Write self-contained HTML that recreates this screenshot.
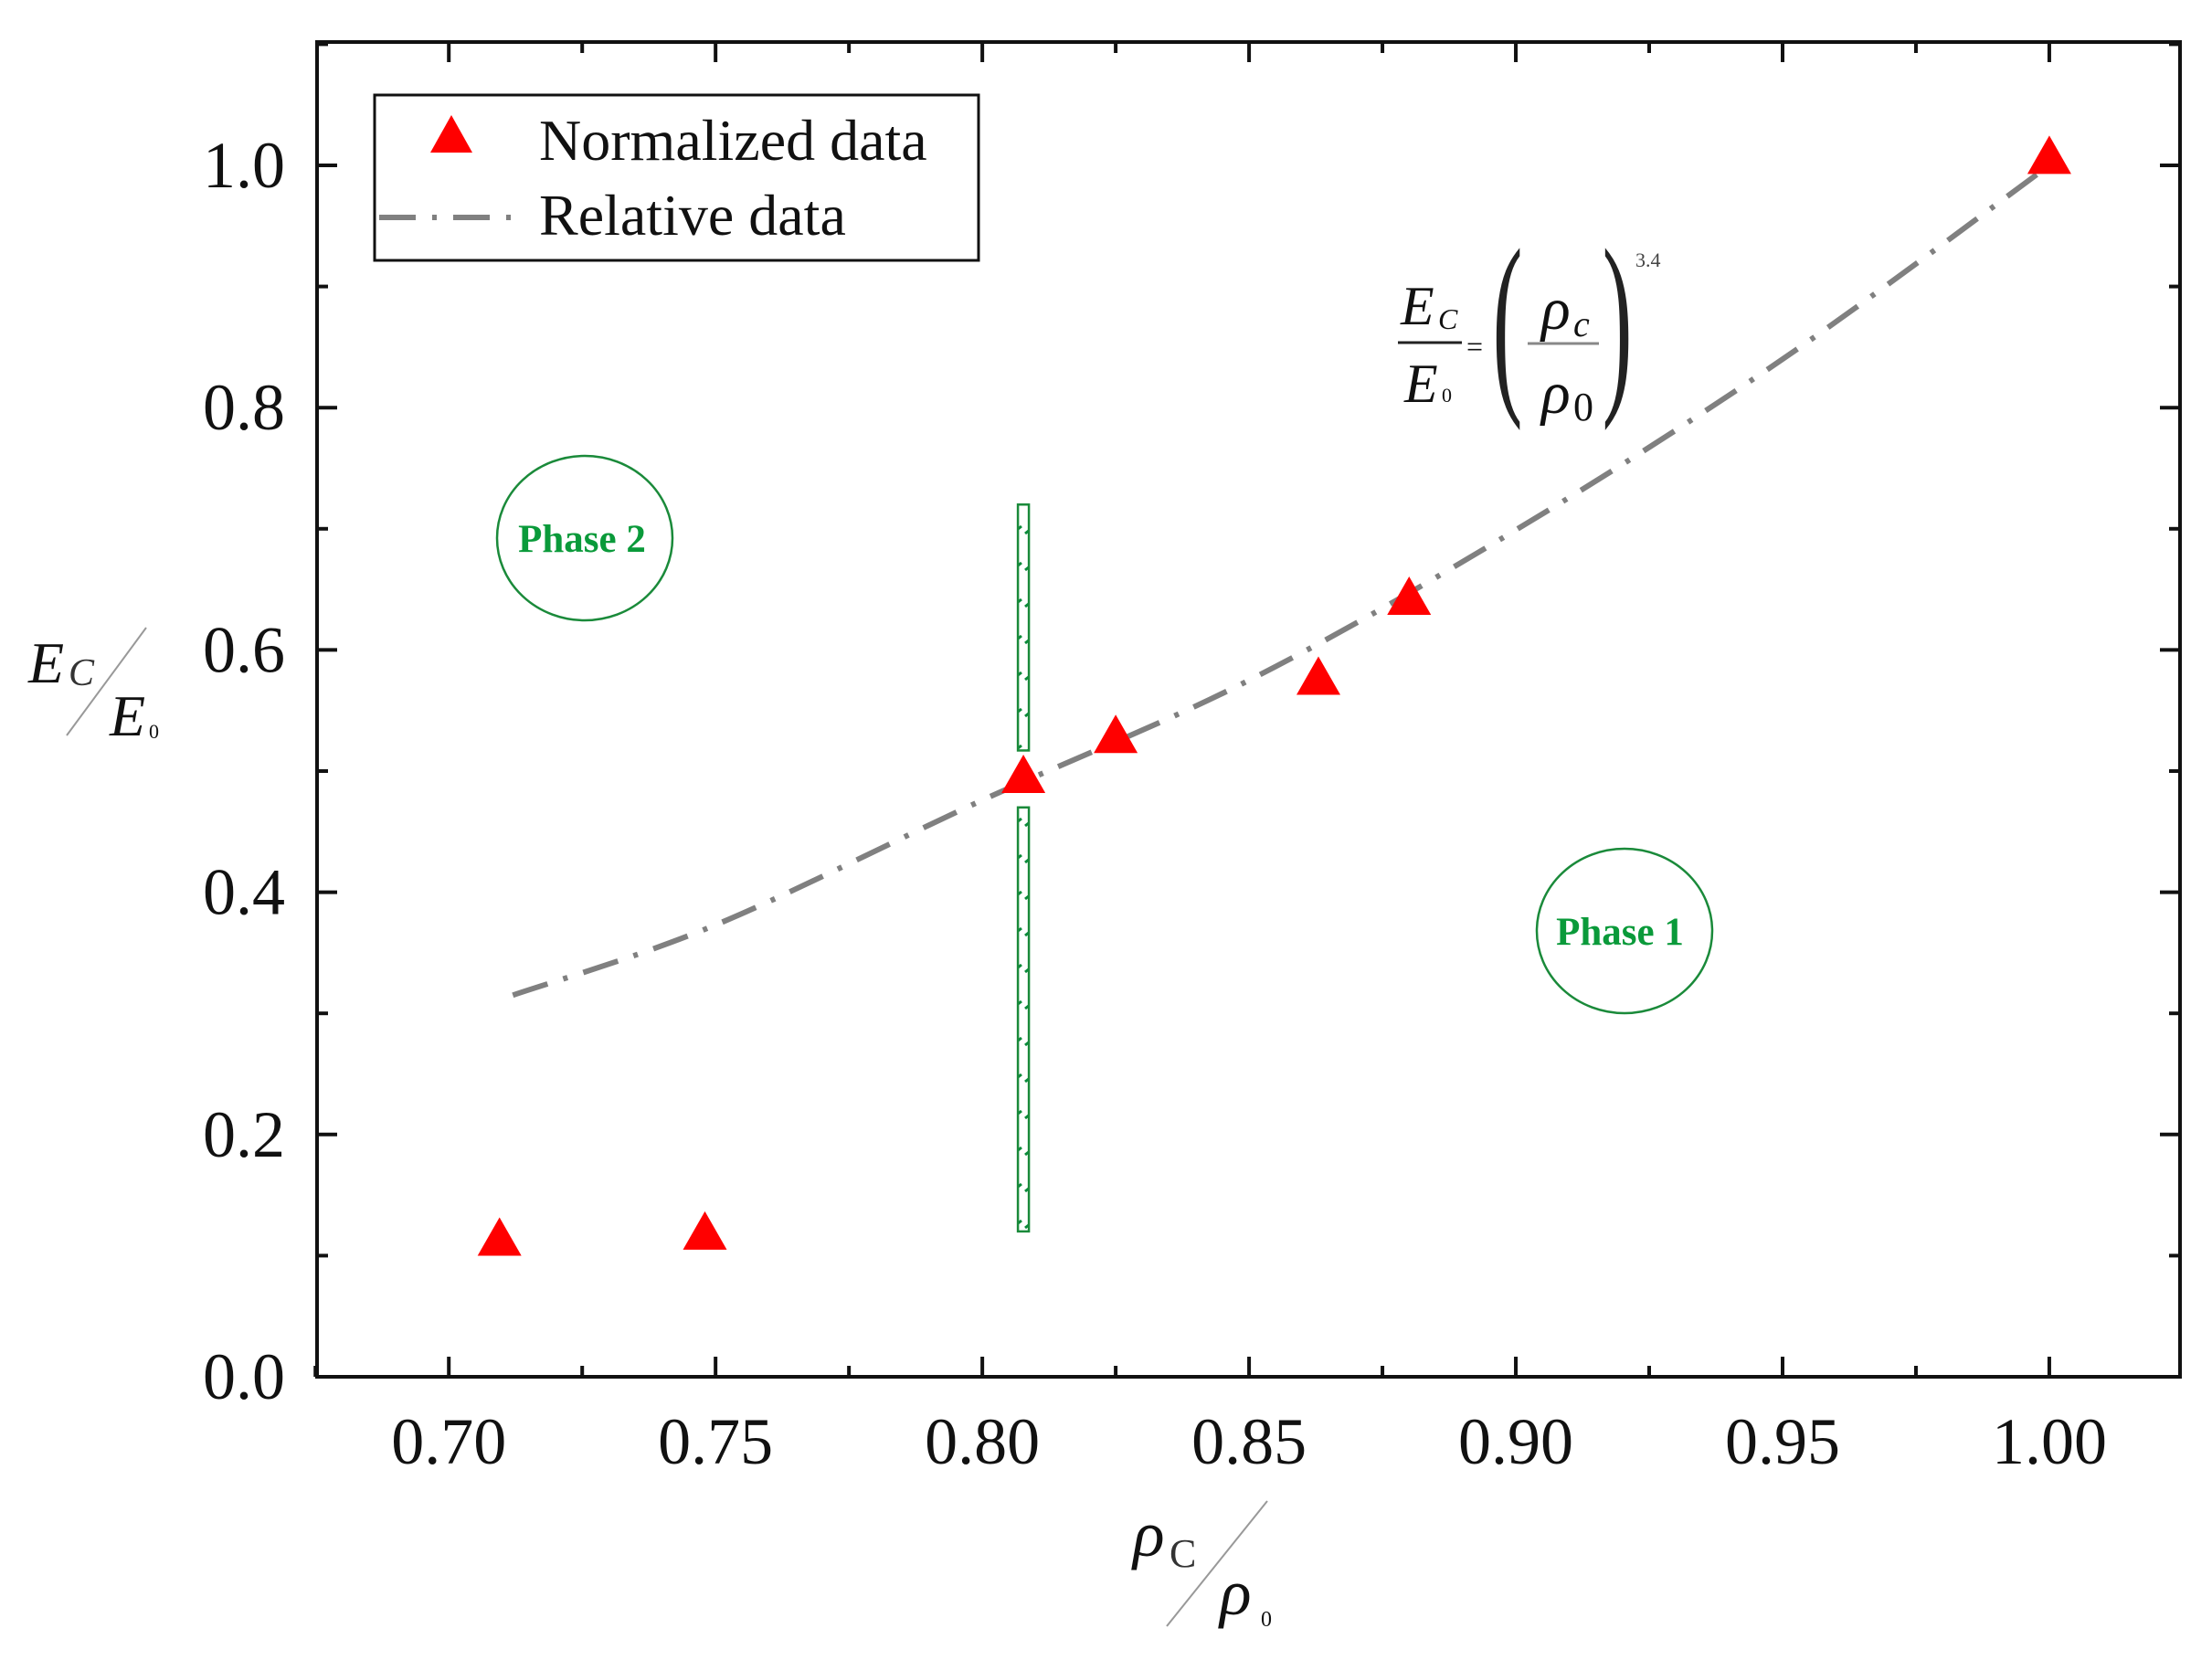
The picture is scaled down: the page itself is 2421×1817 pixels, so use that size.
<!DOCTYPE html>
<html><head><meta charset="utf-8"><style>
html,body{margin:0;padding:0;background:#fff;}
svg{display:block;}
text{font-family:"Liberation Serif",serif;}
</style></head><body>
<svg id="chart" width="2421" height="1817" viewBox="0 0 2421 1817" xmlns="http://www.w3.org/2000/svg">
<defs>
<pattern id="hatch" patternUnits="userSpaceOnUse" width="14" height="40">
<line x1="2" y1="24" x2="12" y2="16" stroke="#0a8a3a" stroke-width="3"/>
</pattern>
</defs>
<g id="axes"></g>
<g id="marks"></g>

<g>
<ellipse cx="640" cy="589" rx="96" ry="90" fill="none" stroke="#1a8a3a" stroke-width="2.5"/>
<text x="637" y="604" font-size="43" font-weight="bold" fill="#0a9a3a" text-anchor="middle">Phase 2</text>
</g>
<g>
<ellipse cx="1778" cy="1019" rx="96" ry="90" fill="none" stroke="#1a8a3a" stroke-width="2.5"/>
<text x="1773" y="1034" font-size="43" font-weight="bold" fill="#0a9a3a" text-anchor="middle">Phase 1</text>
</g>

<g fill="#111">
<text x="1533" y="355" font-size="60" font-style="italic">E</text>
<text x="1574" y="360" font-size="32" font-style="italic">C</text>
<line x1="1530" y1="375" x2="1600" y2="375" stroke="#222" stroke-width="3"/>
<text x="1537" y="440" font-size="60" font-style="italic">E</text>
<text x="1578" y="440" font-size="22">0</text>
<text x="1605" y="390" font-size="32">=</text>
<text x="1630" y="424" font-size="220" transform="scale(0.45,1) translate(2000,0)" fill="#222">(</text>
<text x="1687" y="360" font-size="66" font-style="italic">ρ</text>
<text x="1722" y="368" font-size="40" font-style="italic">c</text>
<line x1="1672" y1="376" x2="1750" y2="376" stroke="#888" stroke-width="3"/>
<text x="1687" y="452" font-size="66" font-style="italic">ρ</text>
<text x="1722" y="460" font-size="44">0</text>
<text x="1755" y="424" font-size="220" transform="scale(0.45,1) translate(2142,0)" fill="#222">)</text>
<text x="1790" y="292" font-size="22" fill="#444">3.4</text>
</g>

<g fill="#111">
<text x="31" y="747" font-size="64" font-style="italic">E</text>
<text x="75" y="750" font-size="42" font-style="italic" fill="#333">C</text>
<line x1="160" y1="687" x2="73" y2="805" stroke="#999" stroke-width="2"/>
<text x="120" y="805" font-size="64" font-style="italic">E</text>
<text x="163" y="808" font-size="22">0</text>
</g>
<g fill="#111">
<text x="1240" y="1703" font-size="72" font-style="italic">ρ</text>
<text x="1280" y="1715" font-size="44" fill="#333">C</text>
<line x1="1387" y1="1643" x2="1277" y2="1780" stroke="#999" stroke-width="2"/>
<text x="1335" y="1767" font-size="72" font-style="italic">ρ</text>
<text x="1380" y="1780" font-size="24">0</text>
</g>

<g>
<rect x="410" y="104" width="661" height="181" fill="#fff" stroke="#111" stroke-width="3"/>
<polygon points="494,126 517,167 471,167" fill="#ff0000"/>
<text x="590" y="175" font-size="64" fill="#111">Normalized data</text>
<line x1="415" y1="238" x2="575" y2="238" stroke="#808080" stroke-width="6" stroke-dasharray="40,18,5,18"/>
<text x="590" y="257" font-size="64" fill="#111">Relative data</text>
</g>
</svg>
<script>
const xTicks = [0.70, 0.75, 0.80, 0.85, 0.90, 0.95, 1.00];
const xTickLabels = ["0.70", "0.75", "0.80", "0.85", "0.90", "0.95", "1.00"];
const yTicks = [0.0, 0.2, 0.4, 0.6, 0.8, 1.0];
const yTickLabels = ["0.0", "0.2", "0.4", "0.6", "0.8", "1.0"];
const pointsX = [0.7095, 0.748, 0.8077, 0.825, 0.863, 0.880, 1.000];
const pointsY = [0.112, 0.117, 0.494, 0.527, 0.575, 0.641, 1.005];
const curveX = [0.712, 0.75, 0.80, 0.85, 0.90, 0.95, 1.00];
const curveY = [0.315, 0.373, 0.476, 0.575, 0.699, 0.840, 1.000];
const bandX = [0.8077];
const bandTop = [0.72, 0.47];
const bandBottom = [0.517, 0.12];

const L = 347, R = 2386, T = 46, B = 1507;
const XMIN = 0.6753, XMAX = 1.0245, YMIN = 0, YMAX = 1.1018;
function sx(v){ return L + (v - XMIN) / (XMAX - XMIN) * (R - L); }
function sy(v){ return B - (v - YMIN) / (YMAX - YMIN) * (B - T); }
const NS = "http://www.w3.org/2000/svg";
function mk(tag, attrs, parent){ const e = document.createElementNS(NS, tag); for (const k in attrs) e.setAttribute(k, attrs[k]); parent.appendChild(e); return e; }
const axes = document.getElementById('axes');
const marks = document.getElementById('marks');

const frame = mk('rect', {x:L, y:T, width:R-L, height:B-T, fill:'none', stroke:'#111', 'stroke-width':4}, axes);



xTicks.forEach((v, i) => {
  const x = sx(v);
  const t1 = mk('line', {x1:x, y1:B, x2:x, y2:B-22, stroke:'#111', 'stroke-width':4}, axes);
  
  
  const t2 = mk('line', {x1:x, y1:T, x2:x, y2:T+22, stroke:'#111', 'stroke-width':4}, axes);
  
  
  if (i < xTicks.length - 1) {
    const m = sx((v + xTicks[i+1]) / 2);
    const m1 = mk('line', {x1:m, y1:B, x2:m, y2:B-12, stroke:'#111', 'stroke-width':4}, axes);
    
    
    const m2 = mk('line', {x1:m, y1:T, x2:m, y2:T+12, stroke:'#111', 'stroke-width':4}, axes);
    
    
  }
  const lb = mk('text', {x:x, y:1602, 'font-size':72, 'text-anchor':'middle', fill:'#111'}, axes);
  
  
  lb.textContent = xTickLabels[i];
});
const firstMinorX = sx(xTicks[0] - 0.025);
const fm1 = mk('line', {x1:firstMinorX, y1:B, x2:firstMinorX, y2:B-12, stroke:'#111', 'stroke-width':4}, axes);



yTicks.forEach((v, i) => {
  const y = sy(v);
  const t1 = mk('line', {x1:L, y1:y, x2:L+22, y2:y, stroke:'#111', 'stroke-width':4}, axes);
  
  
  const t2 = mk('line', {x1:R, y1:y, x2:R-22, y2:y, stroke:'#111', 'stroke-width':4}, axes);
  
  
  const m = sy(v + 0.1);
  const m1 = mk('line', {x1:L, y1:m, x2:L+12, y2:m, stroke:'#111', 'stroke-width':4}, axes);
  
  
  const m2 = mk('line', {x1:R, y1:m, x2:R-12, y2:m, stroke:'#111', 'stroke-width':4}, axes);
  
  
  const lb = mk('text', {x:312, y:y+24, 'font-size':72, 'text-anchor':'end', fill:'#111'}, axes);
  
  
  lb.textContent = yTickLabels[i];
});

bandTop.forEach((t, i) => {
  const cx = sx(bandX[0]);
  const r = mk('rect', {x:cx-6, y:sy(t), width:12, height:sy(bandBottom[i])-sy(t), fill:'url(#hatch)', stroke:'#1a8a3a', 'stroke-width':2.5}, marks);
  
  
});

const pts = curveX.map((v, i) => [sx(v), sy(curveY[i])]);
let d = 'M' + pts[0][0] + ',' + pts[0][1];
for (let i = 0; i < pts.length - 1; i++) {
  const p0 = pts[Math.max(0, i-1)], p1 = pts[i], p2 = pts[i+1], p3 = pts[Math.min(pts.length-1, i+2)];
  const c1 = [p1[0] + (p2[0]-p0[0])/6, p1[1] + (p2[1]-p0[1])/6];
  const c2 = [p2[0] - (p3[0]-p1[0])/6, p2[1] - (p3[1]-p1[1])/6];
  d += ' C' + c1 + ' ' + c2 + ' ' + p2;
}
const curve = mk('path', {d:d, fill:'none', stroke:'#808080', 'stroke-width':6, 'stroke-dasharray':'40,18,5,18'}, marks);



pointsX.forEach((v, i) => {
  const x = sx(v), y = sy(pointsY[i]);
  const tri = mk('polygon', {points:`${x},${y-26} ${x+24},${y+16} ${x-24},${y+16}`, fill:'#ff0000'}, marks);
  
  
});
</script>
</body></html>
